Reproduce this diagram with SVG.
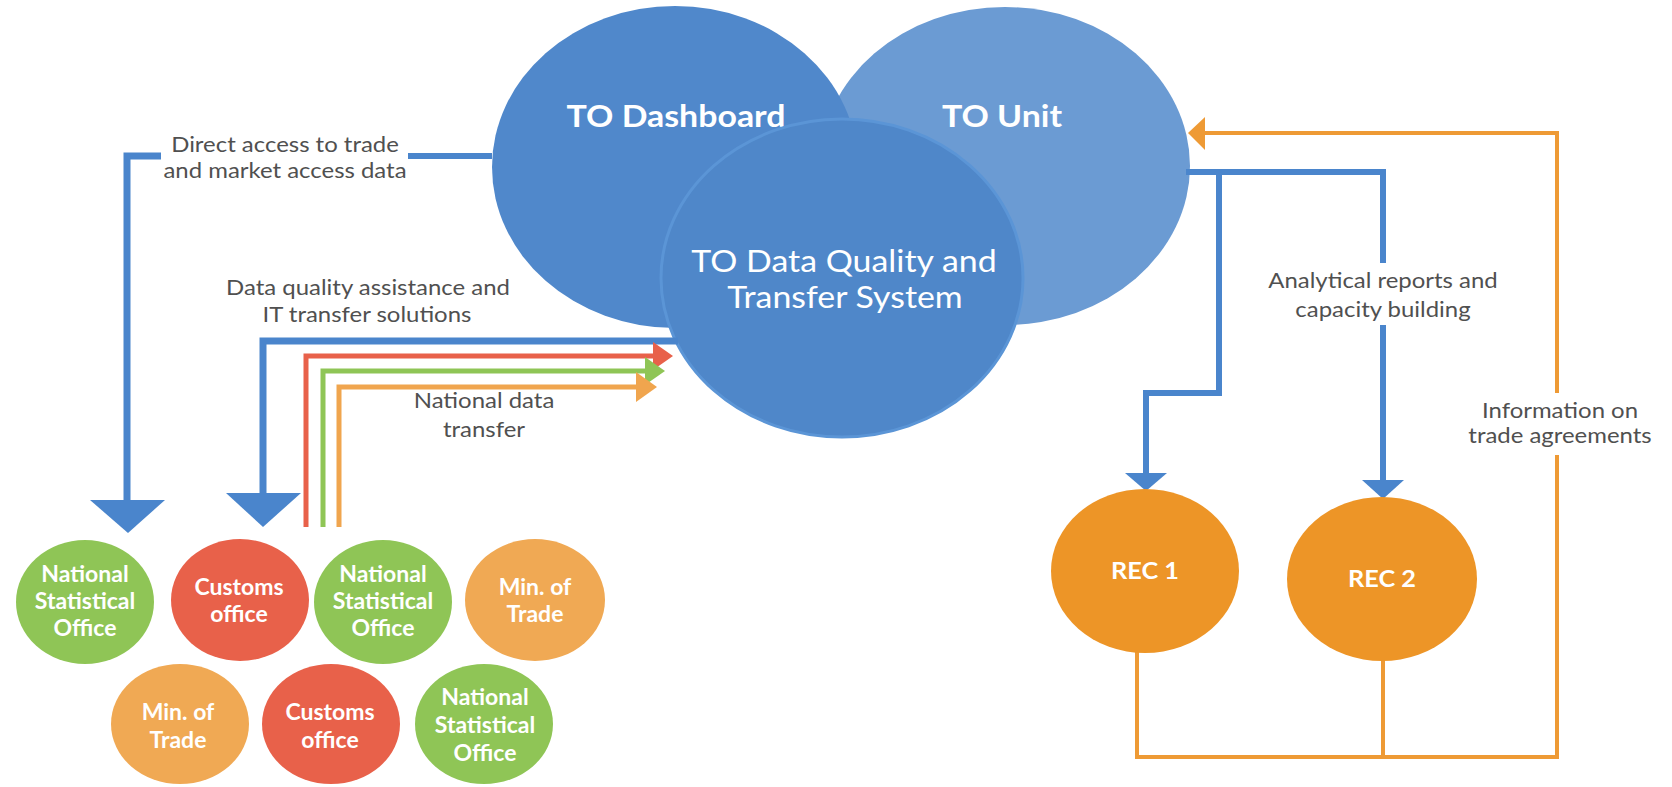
<svg xmlns="http://www.w3.org/2000/svg" width="1672" height="787" viewBox="0 0 1672 787">
  <style>
    .big { font-family: Lato, "Liberation Sans", sans-serif; fill: #ffffff; text-anchor: middle; }
    .lbl { font-family: Lato, "Liberation Sans", sans-serif; font-size: 21px; fill: #505050; text-anchor: middle; }
    .ct { font-family: Lato, "Liberation Sans", sans-serif; font-size: 23px; font-weight: bold; fill: #ffffff; text-anchor: middle; }
    .blue { fill: none; stroke: #4a85cc; stroke-width: 7; stroke-linejoin: miter; }
    .blue2 { fill: none; stroke: #4a85cc; stroke-width: 6; }
    .red { fill: none; stroke: #e8614a; stroke-width: 5; }
    .green { fill: none; stroke: #8fc556; stroke-width: 5; }
    .orl { fill: none; stroke: #f0a54e; stroke-width: 5; }
    .org { fill: none; stroke: #ee9a35; stroke-width: 4; }
  </style>
  <rect width="1672" height="787" fill="#ffffff"/>

  <!-- main circles -->
  <g id="to-unit">
    <ellipse cx="1005" cy="166" rx="185" ry="159" fill="#6b9bd3"/>
    <text class="big" transform="translate(1002 127) scale(1.13 1)" font-size="30" font-weight="bold">TO Unit</text>
  </g>
  <g id="to-dashboard">
    <ellipse cx="675" cy="167" rx="183" ry="161" fill="#5088cb"/>
    <text class="big" transform="translate(676 127) scale(1.13 1)" font-size="30" font-weight="bold">TO Dashboard</text>
  </g>
  <g id="to-dq">
    <ellipse cx="842" cy="278" rx="181" ry="159" fill="#4f87c9" stroke="#5b95d6" stroke-width="3"/>
    <text class="big" transform="translate(844 272) scale(1.13 1)" font-size="30">TO Data Quality and</text>
    <text class="big" transform="translate(845 308) scale(1.13 1)" font-size="30">Transfer System</text>
  </g>

  <!-- connectors -->
  <g id="connectors">
    <!-- direct access -->
    <path class="blue2" d="M492 156 H408"/>
    <path class="blue" d="M161 156 H127 V502"/>
    <polygon points="90,500 165,500 128,533" fill="#4a85cc"/>
    <!-- data quality assistance -->
    <path class="blue" d="M678 341 H263 V495"/>
    <polygon points="226,493 301,493 263,527" fill="#4a85cc"/>
    <!-- national data transfer -->
    <path class="red" d="M306 527 V356 H655"/>
    <polygon points="653,342 673,356 653,370" fill="#e8614a"/>
    <path class="green" d="M323 527 V371 H647"/>
    <polygon points="645,357 665,371 645,385" fill="#8fc556"/>
    <path class="orl" d="M339 527 V387 H638"/>
    <polygon points="636,372 657,387 636,402" fill="#f0a54e"/>
    <!-- analytical reports -->
    <path class="blue2" d="M1186 172 H1383 V263"/>
    <path class="blue2" d="M1383 325 V482"/>
    <polygon points="1362,480 1404,480 1383,499" fill="#4a85cc"/>
    <path class="blue2" d="M1219 172 V393 H1146 V475"/>
    <polygon points="1125,473 1167,473 1146,491" fill="#4a85cc"/>
    <!-- information on trade agreements -->
    <path class="org" d="M1137 650 V757 H1557 V455"/>
    <path class="org" d="M1383 658 V757"/>
    <path class="org" d="M1557 393 V133 H1203"/>
    <polygon points="1205,117 1188,133 1205,150" fill="#ee9a35"/>
  </g>

  <!-- connector labels -->
  <g id="labels">
    <text class="lbl" transform="translate(285 152) scale(1.14 1)">Direct access to trade</text>
    <text class="lbl" transform="translate(285 178) scale(1.14 1)">and market access data</text>
    <text class="lbl" transform="translate(368 295) scale(1.14 1)">Data quality assistance and</text>
    <text class="lbl" transform="translate(367 322) scale(1.14 1)">IT transfer solutions</text>
    <text class="lbl" transform="translate(484 408) scale(1.14 1)">National data</text>
    <text class="lbl" transform="translate(484 437) scale(1.14 1)">transfer</text>
    <text class="lbl" transform="translate(1383 288) scale(1.14 1)">Analytical reports and</text>
    <text class="lbl" transform="translate(1383 317) scale(1.14 1)">capacity building</text>
    <text class="lbl" transform="translate(1560 418) scale(1.14 1)">Information on</text>
    <text class="lbl" transform="translate(1560 443) scale(1.14 1)">trade agreements</text>
  </g>

  <!-- REC nodes -->
  <g id="rec1">
    <ellipse cx="1145" cy="571" rx="94" ry="82" fill="#ed9527"/>
    <text class="ct" transform="translate(1145 579) scale(1.1 1)">REC 1</text>
  </g>
  <g id="rec2">
    <ellipse cx="1382" cy="579" rx="95" ry="82" fill="#ed9527"/>
    <text class="ct" transform="translate(1382 587) scale(1.1 1)">REC 2</text>
  </g>

  <!-- national institutions -->
  <g id="nso-1">
    <ellipse cx="85" cy="602" rx="69" ry="62" fill="#8fc556"/>
    <text class="ct" x="85" y="582">National</text>
    <text class="ct" x="85" y="609">Statistical</text>
    <text class="ct" x="85" y="636">Office</text>
  </g>
  <g id="customs-1">
    <ellipse cx="240" cy="600" rx="69" ry="61" fill="#e8614a"/>
    <text class="ct" x="239" y="595">Customs</text>
    <text class="ct" x="239" y="622">office</text>
  </g>
  <g id="nso-2">
    <ellipse cx="383" cy="602" rx="69" ry="62" fill="#8fc556"/>
    <text class="ct" x="383" y="582">National</text>
    <text class="ct" x="383" y="609">Statistical</text>
    <text class="ct" x="383" y="636">Office</text>
  </g>
  <g id="mot-1">
    <ellipse cx="535" cy="600" rx="70" ry="61" fill="#f0a954"/>
    <text class="ct" x="535" y="595">Min. of</text>
    <text class="ct" x="535" y="622">Trade</text>
  </g>
  <g id="mot-2">
    <ellipse cx="180" cy="724" rx="69" ry="60" fill="#f0a954"/>
    <text class="ct" x="178" y="720">Min. of</text>
    <text class="ct" x="178" y="748">Trade</text>
  </g>
  <g id="customs-2">
    <ellipse cx="331" cy="724" rx="69" ry="60" fill="#e8614a"/>
    <text class="ct" x="330" y="720">Customs</text>
    <text class="ct" x="330" y="748">office</text>
  </g>
  <g id="nso-3">
    <ellipse cx="484" cy="724" rx="69" ry="60" fill="#8fc556"/>
    <text class="ct" x="485" y="705">National</text>
    <text class="ct" x="485" y="733">Statistical</text>
    <text class="ct" x="485" y="761">Office</text>
  </g>
</svg>
